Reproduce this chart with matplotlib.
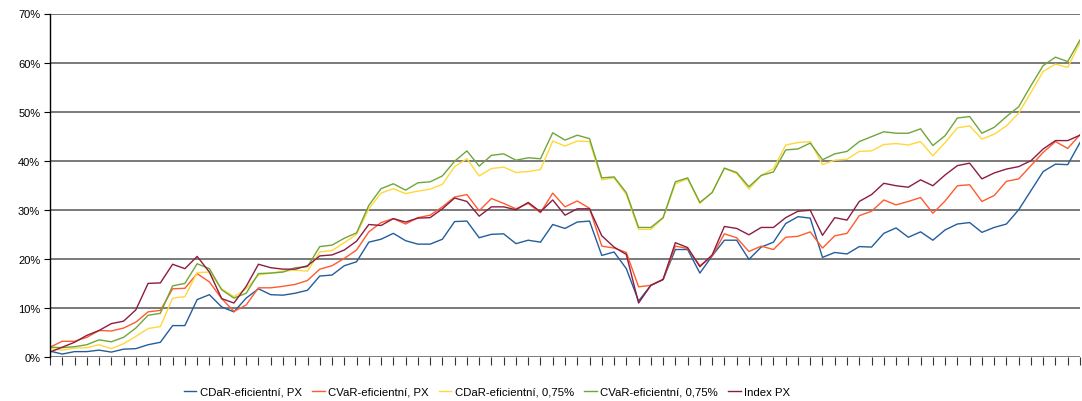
import matplotlib
matplotlib.use("Agg")
import matplotlib.pyplot as plt
import numpy as np
from matplotlib.ticker import FuncFormatter

# cumulative return of each portfolio, in %
cdar_px = [1.2, 0.6, 1.1, 1.1, 1.4, 1.0, 1.6, 1.7, 2.5, 3.0, 6.4, 6.4, 11.7, 12.7, 10.2, 9.2, 12.0, 13.9, 12.7, 12.6,
           13.0, 13.6, 16.5, 16.7, 18.6, 19.4, 23.4, 24.0, 25.2, 23.7, 23.0, 23.0, 24.0, 27.6, 27.7, 24.3, 25.0, 25.1, 23.1, 23.8,
           23.4, 27.0, 26.2, 27.5, 27.7, 20.7, 21.4, 18.0, 11.4, 14.6, 15.8, 21.9, 21.9, 17.1, 20.6, 23.8, 23.8, 19.9, 22.4, 23.4,
           27.2, 28.6, 28.3, 20.3, 21.3, 21.0, 22.5, 22.4, 25.2, 26.3, 24.4, 25.5, 23.8, 25.9, 27.1, 27.4, 25.4, 26.4, 27.1, 30.0,
           33.9, 37.8, 39.3, 39.2, 43.7]
cvar_px = [2.0, 3.2, 3.2, 4.0, 5.4, 5.3, 5.9, 7.1, 9.2, 9.5, 13.9, 14.0, 17.0, 15.3, 11.9, 9.3, 10.6, 14.1, 14.1, 14.4,
           14.8, 15.6, 17.9, 18.6, 20.1, 21.8, 25.5, 27.4, 28.2, 27.1, 28.4, 28.9, 30.6, 32.6, 33.1, 29.8, 32.3, 31.3, 30.2, 31.3,
           29.4, 33.4, 30.6, 31.8, 30.3, 22.6, 22.2, 21.3, 14.3, 14.6, 15.8, 22.6, 22.1, 18.6, 20.6, 25.1, 24.3, 21.5, 22.6, 21.9,
           24.4, 24.6, 25.5, 22.2, 24.7, 25.2, 28.8, 29.7, 32.0, 31.0, 31.7, 32.5, 29.3, 31.8, 34.9, 35.1, 31.7, 32.9, 35.8, 36.3,
           39.0, 41.7, 43.9, 42.5, 45.3]
cdar_075 = [1.7, 1.4, 1.8, 1.9, 2.5, 1.7, 2.7, 4.2, 5.8, 6.2, 12.0, 12.3, 17.2, 17.3, 13.9, 12.3, 13.9, 16.7, 17.1, 17.5,
            17.7, 17.5, 21.4, 21.7, 23.3, 25.0, 30.2, 33.4, 34.3, 33.3, 33.8, 34.2, 35.2, 38.8, 40.4, 36.9, 38.4, 38.7, 37.6, 37.8,
            38.2, 44.0, 43.0, 44.0, 43.9, 36.1, 36.5, 33.1, 26.0, 26.0, 28.3, 35.3, 36.3, 31.3, 33.6, 38.4, 37.4, 34.2, 37.0, 38.4,
            43.2, 43.7, 43.9, 39.2, 40.1, 40.3, 41.9, 42.0, 43.3, 43.5, 43.2, 43.9, 41.0, 43.7, 46.7, 47.1, 44.4, 45.4, 47.1, 49.7,
            53.9, 58.2, 59.7, 59.0, 64.1]
cvar_075 = [2.0, 1.9, 2.1, 2.5, 3.5, 3.1, 4.0, 5.9, 8.5, 8.9, 14.5, 15.0, 19.0, 18.0, 13.7, 12.0, 13.0, 17.0, 17.1, 17.3,
            18.2, 18.4, 22.5, 22.8, 24.2, 25.3, 30.9, 34.3, 35.3, 34.0, 35.5, 35.7, 36.9, 39.9, 42.0, 38.9, 41.1, 41.4, 40.1, 40.6,
            40.4, 45.7, 44.2, 45.2, 44.5, 36.5, 36.7, 33.5, 26.4, 26.4, 28.4, 35.7, 36.5, 31.5, 33.5, 38.5, 37.6, 34.7, 37.0, 37.7,
            42.2, 42.4, 43.6, 40.2, 41.4, 41.9, 43.9, 44.9, 45.9, 45.6, 45.6, 46.5, 43.1, 45.1, 48.7, 49.0, 45.6, 46.8, 49.0, 51.0,
            55.3, 59.4, 61.1, 60.2, 64.6]
index_px = [1.0, 2.0, 3.0, 4.4, 5.4, 6.8, 7.3, 9.6, 15.0, 15.1, 18.9, 18.0, 20.5, 17.3, 11.9, 11.0, 14.4, 18.9, 18.2, 17.9,
            17.9, 18.6, 20.6, 20.8, 21.8, 23.6, 27.0, 26.8, 28.2, 27.5, 28.3, 28.4, 30.2, 32.4, 31.7, 28.7, 30.6, 30.6, 30.0, 31.5,
            29.6, 32.0, 28.9, 30.2, 30.2, 24.7, 22.4, 20.9, 11.0, 14.6, 15.8, 23.3, 22.3, 18.4, 20.8, 26.6, 26.2, 24.9, 26.4, 26.4,
            28.4, 29.7, 29.9, 24.8, 28.4, 27.9, 31.7, 33.1, 35.4, 34.9, 34.6, 36.1, 34.9, 37.1, 39.0, 39.5, 36.3, 37.5, 38.3, 38.8,
            40.0, 42.4, 44.1, 44.1, 45.2]

labels = ["CDaR-eficientní, PX", "CVaR-eficientní, PX", "CDaR-eficientní, 0,75%",
          "CVaR-eficientní, 0,75%", "Index PX"]
colors = ["#245d9c", "#ff5b2e", "#ffd83a", "#6fa63a", "#8c1d40"]

plt.rcParams["font.family"] = ["Liberation Sans", "DejaVu Sans"]

fig = plt.figure(figsize=(10.82, 4.02), dpi=100)
ax = fig.add_axes([50 / 1082, 44 / 402, 1030 / 1082, 343.5 / 402])

x = np.arange(len(cdar_px))
for series, lab, col in zip([cdar_px, cvar_px, cdar_075, cvar_075, index_px], labels, colors):
    ax.plot(x, np.array(series) / 100, color=col, lw=1.0, label=lab)

ax.set_xlim(0, len(x) - 1)
ax.set_ylim(0, 0.7)
ax.set_yticks(np.arange(0, 0.71, 0.1))
ax.yaxis.set_major_formatter(FuncFormatter(lambda v, p: f"{v * 100:.0f}%"))
ax.set_xticks(x)
ax.set_xticklabels([])

ax.grid(axis="y", color="#7a7a7a", lw=1.4)
ax.set_axisbelow(True)
for s in ["top", "right", "bottom"]:
    ax.spines[s].set_visible(False)
ax.spines["left"].set_color("black")
ax.spines["left"].set_linewidth(1.0)
ax.axhline(0.7, color="black", lw=1.2, zorder=0)
ax.tick_params(axis="x", length=6, width=0.8, color="#333333", direction="out")
ax.tick_params(axis="y", length=4, width=0.8, labelsize=8, pad=3)

fig.legend(loc="center", bbox_to_anchor=(487 / 1082, 9 / 402), ncol=5, frameon=False,
           prop={"family": ["Liberation Sans Narrow", "Liberation Sans"], "size": 8.2},
           handlelength=1.1, handletextpad=0.3, columnspacing=0.9)

fig.savefig("out.png", dpi=100)
